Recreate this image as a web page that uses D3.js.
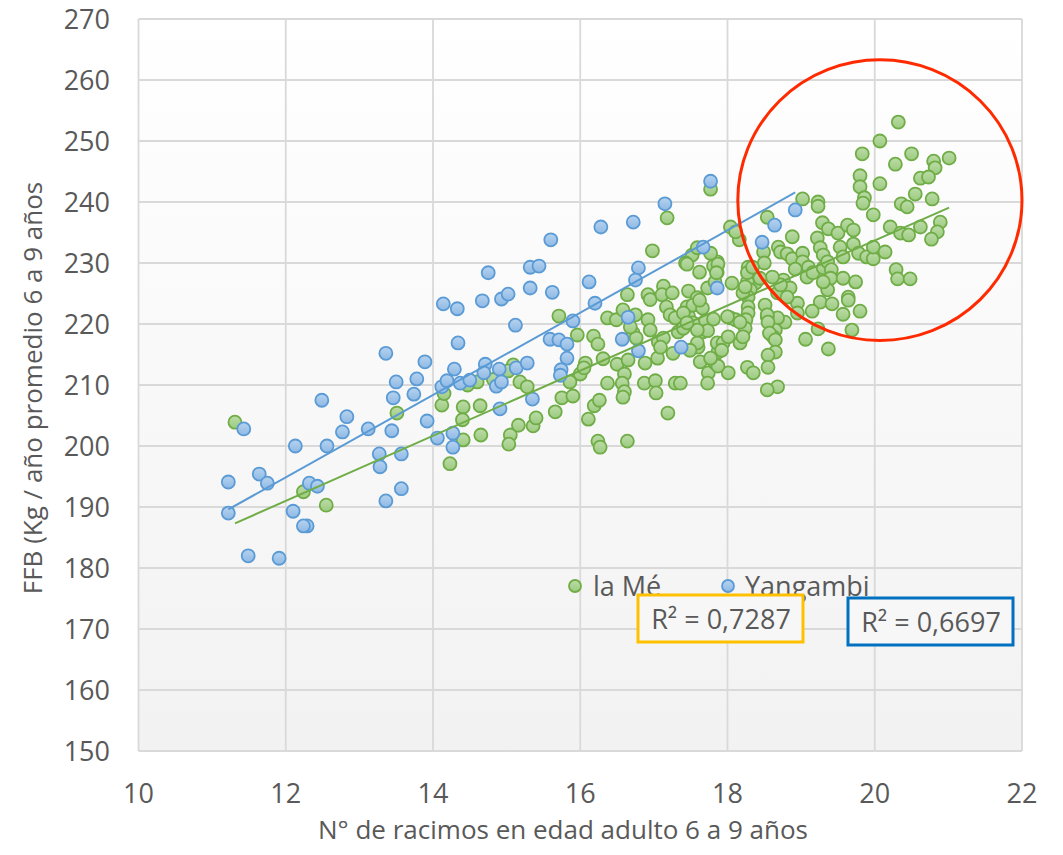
<!DOCTYPE html>
<html>
<head>
<meta charset="utf-8">
<script src="https://cdn.jsdelivr.net/npm/d3@7"></script>
<style>
  body { margin: 0; background: #fff; }
  text { font-family: "Open Sans", sans-serif; fill: #595959; }
</style>
</head>
<body>
<div id="vis"></div>
<script>
// --- data ---
const xTicks = [10, 12, 14, 16, 18, 20, 22];
const yTicks = [150, 160, 170, 180, 190, 200, 210, 220, 230, 240, 250, 260, 270];
const seriesNames = ["la Mé", "Yangambi"];
const r2Labels = ["R² = 0,7287", "R² = 0,6697"];
const xTitle = "N° de racimos en edad adulto 6 a 9 años";
const yTitle = "FFB (Kg / año promedio 6 a 9 años";
// highlighted zone: centre [x, y] and radii [x, y] in data units
const zoneCenter = [20.07, 240.3];
const zoneRadii = [1.93, 23];

const laMe = [
  [11.31,203.9],[12.24,192.5],[12.55,190.3],[13.51,205.4],[14.12,206.7],[14.23,197.1],[14.41,206.4],[14.64,206.6],[14.40,204.3],[14.41,201.0],
  [14.65,201.8],[15.05,201.8],[15.03,200.3],[15.16,203.4],[15.36,203.3],[15.40,204.6],[15.66,205.6],[15.75,207.9],[15.90,208.2],[15.86,210.5],
  [16.00,211.8],[15.09,213.3],[15.18,210.5],[15.28,209.7],[14.60,210.5],[15.96,218.2],[16.18,218.0],[16.24,216.7],[16.07,213.6],[16.05,212.8],
  [16.11,204.4],[16.19,206.6],[16.26,207.5],[16.24,200.8],[16.27,199.8],[16.64,200.8],[16.37,210.3],[16.31,214.3],[16.50,213.4],[16.65,214.1],
  [16.60,211.8],[16.57,210.3],[16.60,208.9],[16.58,208.0],[16.88,213.6],[17.05,214.4],[16.87,210.3],[17.02,210.7],[17.03,208.7],[17.29,210.3],
  [17.19,205.4],[16.72,218.5],[16.76,217.7],[16.68,219.5],[16.37,221.0],[16.49,220.7],[16.58,222.3],[16.75,221.5],[15.71,221.3],[16.92,224.8],
  [16.95,224.0],[17.13,226.2],[17.11,224.8],[17.25,225.1],[16.64,224.8],[16.92,220.7],[16.95,219.0],[17.06,217.1],[17.13,217.7],[17.09,216.2],
  [17.17,222.8],[17.22,221.5],[17.29,221.0],[17.33,218.7],[17.40,219.3],[17.47,221.3],[17.45,222.8],[17.47,225.4],[17.59,224.3],[17.53,223.1],
  [17.66,222.6],[17.62,223.9],[17.70,220.5],[17.81,220.8],[17.66,218.7],[17.73,218.9],[17.60,216.2],[17.59,216.9],[17.26,215.2],[17.49,215.7],
  [17.63,213.8],[17.74,212.0],[17.73,210.3],[17.83,213.6],[17.87,215.4],[17.86,216.9],[17.73,225.9],[17.83,226.9],[17.86,228.5],[17.86,230.2],
  [17.52,231.3],[17.18,237.4],[16.98,232.0],[17.59,232.5],[17.77,231.6],[17.43,230.0],[17.62,228.5],[17.81,229.5],[17.77,242.1],
  [19.02,240.5],[19.23,240.0],[19.23,239.3],[18.54,237.5],[20.32,253.1],[20.07,250.0],[19.83,247.9],[20.50,247.9],[20.28,246.2],[20.80,246.7],
  [20.82,245.6],[21.01,247.2],[20.62,243.9],[20.73,244.1],[19.80,244.3],[19.80,242.5],[20.07,243.0],[19.86,240.7],[19.84,239.8],[20.55,241.3],
  [20.78,240.5],[20.36,239.7],[20.44,239.2],[19.98,237.9],[20.21,235.9],[20.35,234.9],[20.46,234.6],[20.62,235.9],[20.89,236.7],[20.85,235.1],
  [20.77,233.9],[19.29,236.6],[19.37,235.6],[19.50,234.9],[19.63,236.2],[19.71,235.4],[19.71,233.1],[19.53,232.6],[19.57,231.0],[19.78,231.6],
  [19.89,231.0],[19.98,230.7],[19.98,232.6],[20.14,231.8],[20.29,228.9],[20.31,227.4],[20.48,227.4],[18.88,234.3],[19.22,234.1],[19.26,232.5],
  [19.30,231.3],[18.04,235.9],[18.16,233.8],[18.11,235.1],[18.69,232.6],[18.72,231.8],[18.81,231.5],[18.88,230.7],[19.02,231.6],[19.02,230.2],
  [18.49,231.8],[18.50,230.0],[18.28,229.3],[18.34,228.0],[17.87,229.8],[17.85,228.4],[17.45,229.8],[18.06,226.7],[19.10,229.3],[18.92,229.0],
  [19.08,227.7],[19.16,228.4],[19.30,229.2],[19.36,230.2],[19.41,228.9],[19.40,227.5],[19.57,227.5],[19.74,226.9],[19.36,225.6],[19.26,223.6],
  [19.42,223.3],[19.30,226.9],[19.64,224.4],[19.64,223.9],[19.57,221.6],[19.80,222.1],[19.69,219.0],[19.37,215.9],[19.06,217.5],[19.23,219.2],
  [19.15,222.1],[18.95,223.4],[18.95,221.8],[18.78,220.3],[18.68,221.0],[18.54,221.2],[18.65,219.0],[18.62,217.9],[18.76,227.2],[18.85,225.9],
  [18.68,225.1],[18.72,226.4],[18.61,227.7],[18.81,224.4],[18.38,226.7],[18.44,227.5],[18.27,226.9],[18.31,225.6],[18.28,224.4],[18.28,222.8],
  [18.28,221.8],[18.25,220.7],[18.24,219.3],[18.17,216.9],[18.21,217.9],[18.51,223.1],[18.54,221.5],[18.55,220.3],[18.57,218.5],[18.65,217.4],
  [18.65,215.4],[18.55,214.9],[18.55,212.9],[18.68,209.7],[18.54,209.2],[18.27,212.9],[18.35,212.0],[18.01,212.0],[17.87,213.1],[17.77,214.4],
  [17.94,216.9],[17.92,215.7],[18.01,217.9],[18.04,221.0],[18.11,220.7],[18.17,220.3],[18.00,221.2],[18.21,225.1],[18.24,226.1],[18.27,228.4],
  [18.34,229.3],[17.40,221.8],[17.53,220.2],[17.59,219.0],[17.45,220.2],[17.36,210.3],
  // partly hidden behind Yangambi markers
  [14.15,208.6],[14.82,210.9],[15.02,212.3],[14.47,210.0]
];

const yangambi = [
  [11.22,194.1],[11.22,189.0],[11.43,202.8],[11.49,182.0],[11.91,181.6],[11.64,195.4],[11.75,193.9],[12.13,200.0],[12.10,189.3],[12.29,186.9],
  [12.24,186.9],[12.32,193.9],[12.43,193.4],[12.49,207.5],[12.56,200.0],[12.83,204.8],[12.77,202.3],[13.12,202.8],[13.44,202.5],[13.27,198.7],
  [13.28,196.6],[13.57,198.7],[13.57,193.0],[13.36,191.0],[13.36,215.2],[13.89,213.8],[13.50,210.5],[13.78,211.0],[13.46,207.9],[13.74,208.5],
  [14.12,209.7],[14.19,210.7],[13.92,204.1],[14.06,201.3],[14.27,202.1],[14.27,199.8],[14.14,223.3],[14.33,222.5],[14.67,223.8],[14.93,224.1],
  [15.02,224.9],[15.32,225.9],[15.62,225.2],[14.75,228.4],[15.32,229.3],[15.44,229.5],[15.60,233.8],[16.28,235.9],[16.72,236.7],[17.15,239.7],
  [17.77,243.4],[16.79,229.2],[16.75,227.2],[16.12,226.9],[17.67,232.6],[17.86,225.9],[16.20,223.4],[15.90,220.5],[16.65,221.1],[15.12,219.8],
  [14.34,216.9],[15.59,217.5],[15.71,217.4],[15.82,216.7],[16.57,217.5],[16.79,215.6],[17.37,216.2],[15.82,214.4],[15.74,212.5],[15.73,211.6],
  [14.29,212.6],[14.71,213.4],[14.90,212.6],[15.13,212.8],[15.28,213.6],[14.37,210.3],[14.50,210.8],[14.69,212.0],[14.86,209.8],[14.93,210.5],
  [15.35,207.7],[14.91,206.1],[18.47,233.4],[18.64,236.2],[18.92,238.7]
];

// --- chart ---
const width = 1063, height = 855;
const plot = { left: 138.5, right: 1022, top: 19, bottom: 751 };

const svg = d3.select("#vis").append("svg")
  .attr("width", width)
  .attr("height", height);

const x = d3.scaleLinear().domain([10, 22]).range([plot.left, plot.right]);
const y = d3.scaleLinear().domain([150, 270]).range([plot.bottom, plot.top]);

const defs = svg.append("defs");
const bg = defs.append("linearGradient").attr("id", "bg")
  .attr("x1", 0).attr("y1", 0).attr("x2", 0).attr("y2", 1);
bg.append("stop").attr("offset", "0%").attr("stop-color", "#ffffff");
bg.append("stop").attr("offset", "100%").attr("stop-color", "#f2f2f2");

function markerGrad(id, top, bottom) {
  const g = defs.append("linearGradient").attr("id", id)
    .attr("x1", 0).attr("y1", 0).attr("x2", 0).attr("y2", 1);
  g.append("stop").attr("offset", "0%").attr("stop-color", top);
  g.append("stop").attr("offset", "100%").attr("stop-color", bottom);
}
markerGrad("gGreen", "#bcdca8", "#9ccb80");
markerGrad("gBlue", "#b6d3f0", "#8fb9e4");

svg.append("rect")
  .attr("x", plot.left).attr("y", plot.top)
  .attr("width", plot.right - plot.left).attr("height", plot.bottom - plot.top)
  .attr("fill", "url(#bg)");

// grid
svg.append("g").selectAll("line").data(xTicks).enter().append("line")
  .attr("x1", d => x(d)).attr("x2", d => x(d))
  .attr("y1", plot.top).attr("y2", plot.bottom)
  .attr("stroke", "#d9d9d9").attr("stroke-width", 1.8);
svg.append("g").selectAll("line").data(yTicks).enter().append("line")
  .attr("x1", plot.left).attr("x2", plot.right)
  .attr("y1", d => y(d)).attr("y2", d => y(d))
  .attr("stroke", "#d9d9d9").attr("stroke-width", 1.8);

// tick labels
svg.append("g").selectAll("text").data(xTicks).enter().append("text")
  .attr("x", d => x(d)).attr("y", 803)
  .attr("text-anchor", "middle")
  .style("font-size", "27px")
  .text(d => d);
svg.append("g").selectAll("text").data(yTicks).enter().append("text")
  .attr("x", 110).attr("y", d => y(d) + 10)
  .attr("text-anchor", "end")
  .style("font-size", "27px")
  .text(d => d);

// axis titles
svg.append("text")
  .attr("x", 563).attr("y", 839)
  .attr("text-anchor", "middle")
  .style("font-size", "26px")
  .text(xTitle);
svg.append("text")
  .attr("transform", "translate(42," + 388 + ") rotate(-90)")
  .attr("text-anchor", "middle")
  .style("font-size", "26px")
  .text(yTitle);

// points
function drawPoints(data, fill, stroke) {
  svg.append("g").selectAll("circle").data(data).enter().append("circle")
    .attr("cx", d => x(d[0])).attr("cy", d => y(d[1]))
    .attr("r", 6.5)
    .attr("fill", fill)
    .attr("stroke", stroke)
    .attr("stroke-width", 1.8);
}
drawPoints(laMe, "url(#gGreen)", "#70ad47");
drawPoints(yangambi, "url(#gBlue)", "#5b9bd5");

// linear trend lines (least squares), drawn over the points like Excel does
function fit(pts) {
  const mx = d3.mean(pts, d => d[0]), my = d3.mean(pts, d => d[1]);
  const slope = d3.sum(pts, d => (d[0] - mx) * (d[1] - my)) / d3.sum(pts, d => (d[0] - mx) ** 2);
  const ext = d3.extent(pts, d => d[0]);
  return ext.map(v => [v, my + slope * (v - mx)]);
}
const line = d3.line().x(d => x(d[0])).y(d => y(d[1]));
svg.append("path").attr("d", line(fit(laMe)))
  .attr("fill", "none").attr("stroke", "#70ad47").attr("stroke-width", 2);
svg.append("path").attr("d", line(fit(yangambi)))
  .attr("fill", "none").attr("stroke", "#5b9bd5").attr("stroke-width", 2);

// legend
const legend = svg.append("g");
[["url(#gGreen)", "#70ad47", 575, 593], ["url(#gBlue)", "#5b9bd5", 728, 745]].forEach((c, i) => {
  legend.append("circle").attr("cx", c[2]).attr("cy", 586).attr("r", 6)
    .attr("fill", c[0]).attr("stroke", c[1]).attr("stroke-width", 1.8);
  legend.append("text").attr("x", c[3]).attr("y", 596)
    .style("font-size", "27px")
    .text(seriesNames[i]);
});

// R² labels
[[638, 595, "#ffc000"], [848, 598, "#0070c0"]].forEach((b, i) => {
  svg.append("rect").attr("x", b[0]).attr("y", b[1])
    .attr("width", 165).attr("height", 47)
    .attr("fill", "#f7f7f7").attr("stroke", b[2]).attr("stroke-width", 3);
  svg.append("text").attr("x", b[0] + 83).attr("y", b[1] + 34)
    .attr("text-anchor", "middle")
    .style("font-size", "27px")
    .text(r2Labels[i]);
});

// red highlight ellipse
svg.append("ellipse")
  .attr("cx", x(zoneCenter[0])).attr("cy", y(zoneCenter[1]))
  .attr("rx", x(zoneCenter[0] + zoneRadii[0]) - x(zoneCenter[0]))
  .attr("ry", y(zoneCenter[1] - zoneRadii[1]) - y(zoneCenter[1]))
  .attr("fill", "none").attr("stroke", "#ff2a00").attr("stroke-width", 3);
</script>
</body>
</html>
